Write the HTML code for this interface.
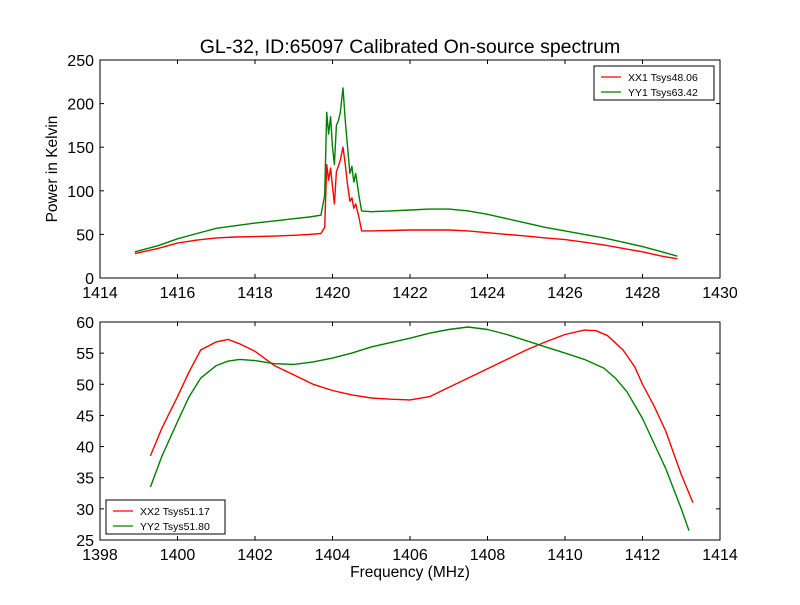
<!DOCTYPE html>
<html><head><meta charset="utf-8"><style>
body{margin:0;background:#fff}
svg{font-family:"Liberation Sans","DejaVu Sans",sans-serif}
</style></head><body>
<svg id="c" width="800" height="600" xmlns="http://www.w3.org/2000/svg">
<rect width="800" height="600" fill="#fff"/>
<text x="410" y="53" text-anchor="middle" font-size="19.5">GL-32, ID:65097 Calibrated On-source spectrum</text>
</svg>
<script>
const topFreq=[1414.9,1415.5,1416,1416.5,1417,1417.5,1418,1418.5,1419,1419.4,1419.7,1419.8,1419.85,1419.9,1419.95,1420.0,1420.05,1420.1,1420.15,1420.2,1420.27,1420.33,1420.38,1420.45,1420.5,1420.55,1420.6,1420.68,1420.75,1421,1421.5,1422,1422.5,1423,1423.5,1424,1424.5,1425,1425.5,1426,1426.5,1427,1427.5,1428,1428.5,1428.9];
const topXX=[28,34,40,43.5,46,47,47.5,48,49,50,51,58,130,112,126,105,85,122,128,135,150,130,110,88,92,80,85,70,54,54,54.5,55,55,55,54,52,50,48,46,44,41,38,34,30,25,22];
const topYY=[30,37,45,51,57,60,63,65.5,68,70,72,95,190,165,185,150,130,175,180,190,218,180,155,120,128,110,120,95,77,76,77,78,79,79,77,73,68,63,58,54,50,46,41,36,30,25];
const botRedFreq=[1399.3,1399.6,1400,1400.3,1400.6,1401,1401.3,1401.6,1402,1402.5,1403,1403.5,1404,1404.5,1405,1405.5,1406,1406.5,1407,1407.5,1408,1408.5,1409,1409.5,1410,1410.5,1410.8,1411.1,1411.5,1411.8,1412,1412.3,1412.6,1413,1413.3];
const botXX2=[38.5,43,48,52,55.5,56.8,57.2,56.5,55.3,53,51.5,50,49,48.3,47.8,47.6,47.5,48,49.5,51,52.5,54,55.5,56.8,58,58.7,58.6,57.8,55.5,52.8,50,46.5,42.5,35.5,31];
const botGreenFreq=[1399.3,1399.6,1400,1400.3,1400.6,1401,1401.3,1401.6,1402,1402.5,1403,1403.5,1404,1404.5,1405,1405.5,1406,1406.5,1407,1407.5,1408,1408.5,1409,1409.5,1410,1410.5,1411,1411.3,1411.6,1412,1412.3,1412.6,1413,1413.2];
const botYY2=[33.5,38.5,44,48,51,53,53.7,54,53.8,53.3,53.2,53.6,54.2,55,56,56.7,57.4,58.2,58.8,59.2,58.8,58,57,56,55,54,52.6,51,48.8,44.5,40.5,36.5,30,26.5];
const topXTicks=[1414,1416,1418,1420,1422,1424,1426,1428,1430];
const topYTicks=[0,50,100,150,200,250];
const botXTicks=[1398,1400,1402,1404,1406,1408,1410,1412,1414];
const botYTicks=[25,30,35,40,45,50,55,60];

const svg=document.getElementById('c');
const NS='http://www.w3.org/2000/svg';
function mk(tag,at,parent){const e=document.createElementNS(NS,tag);for(const k in at)e.setAttribute(k,at[k]);(parent||svg).appendChild(e);return e;}

function panel(name,L,T,R,B,x0,x1,y0,y1,xt,yt,series,legend,ylabel,xlabel){
  const g=mk('g',{});
  
  
  const sx=v=>L+(v-x0)/(x1-x0)*(R-L);
  const sy=v=>B-(v-y0)/(y1-y0)*(B-T);
  for(const s of series){
    const pts=s.x.map((f,i)=>sx(f).toFixed(1)+','+sy(s.y[i]).toFixed(1)).join(' ');
    const p=mk('polyline',{points:pts,fill:'none',stroke:s.c,'stroke-width':1.4,'stroke-linejoin':'round'},g);
    
    
  }
  const fr=mk('rect',{x:L,y:T,width:R-L,height:B-T,fill:'none',stroke:'#000','stroke-width':1},g);
  
  
  for(const t of xt){const x=sx(t);
    mk('line',{x1:x,x2:x,y1:B,y2:B-4,stroke:'#000'},g);mk('line',{x1:x,x2:x,y1:T,y2:T+4,stroke:'#000'},g);
    const tx=mk('text',{x:x,y:B+20,'text-anchor':'middle','font-size':16},g);tx.textContent=t;
    
    }
  for(const t of yt){const y=sy(t);
    mk('line',{x1:L,x2:L+4,y1:y,y2:y,stroke:'#000'},g);mk('line',{x1:R,x2:R-4,y1:y,y2:y,stroke:'#000'},g);
    const tx=mk('text',{x:L-6,y:y+6,'text-anchor':'end','font-size':16},g);tx.textContent=t;
    
    }
  const lg=mk('g',{},g);
  
  
  mk('rect',{x:legend.x,y:legend.y,width:legend.w,height:34,fill:'#fff',stroke:'#000'},lg);
  series.forEach((s,i)=>{const y=legend.y+11+i*15;
    mk('line',{x1:legend.x+7,x2:legend.x+27,y1:y,y2:y,stroke:s.c,'stroke-width':1.3},lg);
    const t=mk('text',{x:legend.x+34,y:y+4,'font-size':10.5},lg);t.textContent=s.label;
    
    });
  if(ylabel){const t=mk('text',{x:0,y:0,'text-anchor':'middle','font-size':15.5,transform:`translate(57,${(T+B)/2}) rotate(-90)`},g);t.textContent=ylabel;
    
    }
  if(xlabel){const t=mk('text',{x:(L+R)/2,y:B+37,'text-anchor':'middle','font-size':15.5},g);t.textContent=xlabel;
    
    }
}
panel('top-panel',100,60,720,278,1414,1430,0,250,topXTicks,topYTicks,
 [{x:topFreq,y:topXX,c:'#ff0000',n:'line-xx1',label:'XX1 Tsys48.06'},{x:topFreq,y:topYY,c:'#008000',n:'line-yy1',label:'YY1 Tsys63.42'}],
 {x:594,y:66,w:120},'Power in Kelvin',null);
panel('bottom-panel',100,322,720,540,1398,1414,25,60,botXTicks,botYTicks,
 [{x:botRedFreq,y:botXX2,c:'#ff0000',n:'line-xx2',label:'XX2 Tsys51.17'},{x:botGreenFreq,y:botYY2,c:'#008000',n:'line-yy2',label:'YY2 Tsys51.80'}],
 {x:106,y:500,w:119},null,'Frequency (MHz)');
</script>
</body></html>
